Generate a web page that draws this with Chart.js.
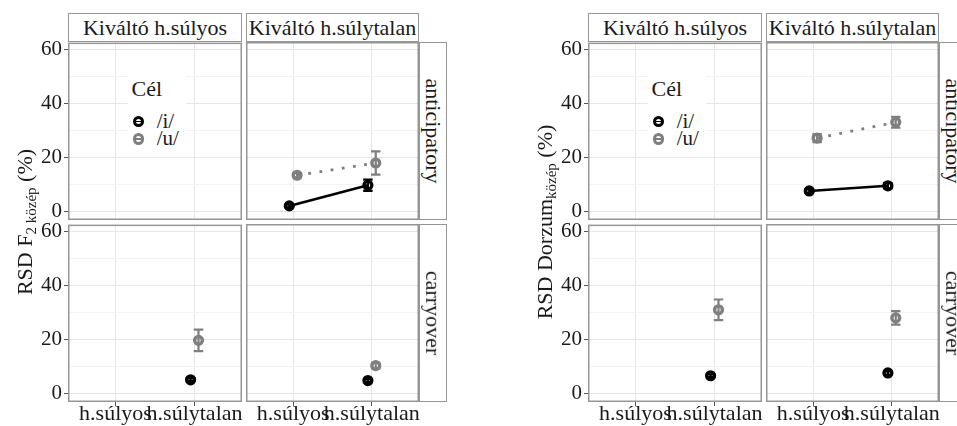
<!DOCTYPE html>
<html>
<head>
<meta charset="utf-8">
<script src="https://cdn.jsdelivr.net/npm/chart.js@4/dist/chart.umd.min.js"></script>
<style>
  html, body { margin: 0; padding: 0; background: #fff; overflow: hidden; }
  #fig { position: relative; width: 957px; height: 426px; overflow: hidden; background: #fff;
         font-family: "Liberation Serif", "Times New Roman", serif; color: #1a1a1a; }
  #fig canvas { position: absolute; }
  .strip { position: absolute; box-sizing: border-box; border: 1.5px solid #969696; background: #fff;
           display: flex; align-items: center; justify-content: center; font-size: 22px; white-space: nowrap; }
  .strip.side span { display: block; transform: rotate(90deg); }
  .ytitle { position: absolute; width: 400px; height: 30px; line-height: 30px; text-align: center;
            font-size: 22px; white-space: nowrap; transform: rotate(-90deg); }
  .ytitle sub { font-size: 15px; vertical-align: -4px; line-height: 0; }
  .legend { position: absolute; background: #fff; }
  .legend .title { position: absolute; font-size: 22px; line-height: 22px; white-space: nowrap; }
  .legend .lab { position: absolute; font-size: 21px; line-height: 21px; white-space: nowrap; }
  .legend .key { position: absolute; width: 11.4px; height: 11.4px; box-sizing: border-box;
                 border-radius: 50%; border: 3.4px solid currentColor; }
  .legend .key::after { content: ""; position: absolute; left: 0; right: 0; top: 50%; height: 1.6px;
                        margin-top: -0.8px; background: currentColor; }
</style>
</head>
<body>
<div id="fig"></div>
<script>
// ---- categories and labels ----
const xCategories = ['h.súlyos', 'h.súlytalan'];
const triggerLabels = ['Kiváltó h.súlyos', 'Kiváltó h.súlytalan'];
const contextLabels = ['anticipatory', 'carryover'];
const targetLabels = ['/i/', '/u/'];
const yGridValues = [0, 10, 20, 30, 40, 50, 60];
const yLabelValues = [0, 20, 40, 60];

// ---- RSD F2 közép (%), values per x category [h.súlyos, h.súlytalan] ----
// anticipatory, Kiváltó h.súlytalan
const f2AntUnstressedI = [2.2, 9.8];
const f2AntUnstressedIErr = [0.5, 2.1];
const f2AntUnstressedU = [13.5, 18.0];
const f2AntUnstressedUErr = [0.8, 4.3];
// carryover, Kiváltó h.súlyos
const f2CarStressedI = [null, 5.2];
const f2CarStressedIErr = [null, 0.5];
const f2CarStressedU = [null, 19.8];
const f2CarStressedUErr = [null, 4.0];
// carryover, Kiváltó h.súlytalan
const f2CarUnstressedI = [null, 4.9];
const f2CarUnstressedIErr = [null, 0.5];
const f2CarUnstressedU = [null, 10.4];
const f2CarUnstressedUErr = [null, 1.0];

// ---- RSD Dorzum közép (%) ----
// anticipatory, Kiváltó h.súlytalan
const dorAntUnstressedI = [7.7, 9.6];
const dorAntUnstressedIErr = [0.6, 1.0];
const dorAntUnstressedU = [27.2, 33.0];
const dorAntUnstressedUErr = [1.5, 2.0];
// carryover, Kiváltó h.súlyos
const dorCarStressedI = [null, 6.7];
const dorCarStressedIErr = [null, 0.5];
const dorCarStressedU = [null, 31.1];
const dorCarStressedUErr = [null, 3.8];
// carryover, Kiváltó h.súlytalan
const dorCarUnstressedI = [null, 7.7];
const dorCarUnstressedIErr = [null, 0.6];
const dorCarUnstressedU = [null, 28.0];
const dorCarUnstressedUErr = [null, 2.5];

// ---- styling / layout ----
const FONT = '"Liberation Serif", "Times New Roman", serif';
const TEXT = '#1a1a1a';
const COL_I = '#000000';
const COL_U = '#7f7f7f';
const BORDER = '#969696';
const DODGE = 0.05;
const CAP_HALF = 0.06;
const Y_MIN = -3.0, Y_MAX = 62.6;

const panelX = [68, 246], panelW = [174, 173];
const panelY = [42, 224], panelH = 178;
const stripTop = 13;
const sideStripW = 28;

// each figure: [row][col] -> series or null
const figures = [
  {
    offset: 0,
    titleHtml: 'RSD F<sub>2 közép</sub> (%)',
    panels: [
      [null, { line: true, i: f2AntUnstressedI, iErr: f2AntUnstressedIErr, u: f2AntUnstressedU, uErr: f2AntUnstressedUErr }],
      [{ line: false, i: f2CarStressedI, iErr: f2CarStressedIErr, u: f2CarStressedU, uErr: f2CarStressedUErr },
       { line: false, i: f2CarUnstressedI, iErr: f2CarUnstressedIErr, u: f2CarUnstressedU, uErr: f2CarUnstressedUErr }]
    ]
  },
  {
    offset: 520,
    titleHtml: 'RSD Dorzum<sub>közép</sub> (%)',
    panels: [
      [null, { line: true, i: dorAntUnstressedI, iErr: dorAntUnstressedIErr, u: dorAntUnstressedU, uErr: dorAntUnstressedUErr }],
      [{ line: false, i: dorCarStressedI, iErr: dorCarStressedIErr, u: dorCarStressedU, uErr: dorCarStressedUErr },
       { line: false, i: dorCarUnstressedI, iErr: dorCarUnstressedIErr, u: dorCarUnstressedU, uErr: dorCarUnstressedUErr }]
    ]
  }
];

// error bars under the points, panel border on top
const panelPlugin = {
  id: 'panelDecor',
  beforeDatasetsDraw(chart) {
    const { ctx, scales: { x, y } } = chart;
    chart.data.datasets.forEach(ds => {
      ctx.save();
      ctx.strokeStyle = ds.borderColor;
      ctx.lineWidth = 2.2;
      ctx.setLineDash([]);
      ctx.lineCap = 'butt';
      ds.data.forEach((pt, k) => {
        const e = ds.errors[k];
        if (e == null) return;
        const px = x.getPixelForValue(pt.x);
        const xl = x.getPixelForValue(pt.x - CAP_HALF);
        const xr = x.getPixelForValue(pt.x + CAP_HALF);
        const yt = y.getPixelForValue(pt.y + e);
        const yb = y.getPixelForValue(pt.y - e);
        ctx.beginPath();
        ctx.moveTo(px, yt); ctx.lineTo(px, yb);
        ctx.moveTo(xl, yt); ctx.lineTo(xr, yt);
        ctx.moveTo(xl, yb); ctx.lineTo(xr, yb);
        ctx.stroke();
      });
      ctx.restore();
    });
  },
  afterDraw(chart) {
    const a = chart.chartArea;
    const ctx = chart.ctx;
    ctx.save();
    ctx.strokeStyle = BORDER;
    ctx.lineWidth = 1.5;
    ctx.strokeRect(a.left + 0.75, a.top + 0.75, a.right - a.left - 1.5, a.bottom - a.top - 1.5);
    ctx.restore();
  }
};

function buildDataset(values, errs, color, label, line, dodge, dotted) {
  const data = [], errors = [];
  values.forEach((v, k) => {
    if (v == null) return;
    data.push({ x: k + 1 + dodge, y: v });
    errors.push(errs[k]);
  });
  return {
    label, data, errors,
    borderColor: color,
    backgroundColor: color,
    showLine: line,
    borderWidth: dotted ? 2.8 : 2.6,
    borderDash: dotted ? [2.8, 8.5] : [],
    borderCapStyle: 'butt',
    tension: 0,
    pointRadius: 3.9,
    pointBorderWidth: 3.4,
    pointBackgroundColor: 'rgba(0,0,0,0)',
    pointBorderColor: color,
    pointHoverRadius: 3.9
  };
}

const fig = document.getElementById('fig');

function addEl(tag, cls, style, html) {
  const el = document.createElement(tag);
  if (cls) el.className = cls;
  Object.assign(el.style, style);
  if (html != null) el.innerHTML = html;
  fig.appendChild(el);
  return el;
}

figures.forEach(F => {
  const ox = F.offset;

  for (let r = 0; r < 2; r++) {
    for (let c = 0; c < 2; c++) {
      const isLeft = c === 0, isBottom = r === 1;
      const padL = isLeft ? 50 : 0;
      const padT = 14;
      const padR = 12;
      const padB = isBottom ? 32 : 16;
      const w = panelW[c] + padL + padR;
      const h = panelH + padT + padB;
      const cv = document.createElement('canvas');
      cv.width = w; cv.height = h;
      cv.style.left = (ox + panelX[c] - padL) + 'px';
      cv.style.top = (panelY[r] - padT) + 'px';
      cv.style.width = w + 'px'; cv.style.height = h + 'px';
      fig.appendChild(cv);

      const P = F.panels[r][c];
      const datasets = P ? [
        buildDataset(P.i, P.iErr, COL_I, targetLabels[0], P.line, -DODGE, false),
        buildDataset(P.u, P.uErr, COL_U, targetLabels[1], P.line, DODGE, true)
      ] : [];

      new Chart(cv, {
        type: 'line',
        data: { datasets },
        options: {
          responsive: false,
          animation: false,
          events: [],
          layout: { autoPadding: false, padding: { top: padT, right: padR, bottom: 0, left: 0 } },
          plugins: { legend: { display: false }, tooltip: { enabled: false } },
          scales: {
            x: {
              type: 'linear', min: 0.4, max: 2.6,
              afterBuildTicks: s => { s.ticks = xCategories.map((_, k) => ({ value: k + 1 })); },
              afterFit: s => { s.height = padB; },
              ticks: {
                display: isBottom, autoSkip: false, maxRotation: 0, minRotation: 0,
                callback: v => xCategories[Math.round(v) - 1],
                font: { family: FONT, size: 22 }, color: TEXT, padding: -5
              },
              grid: { color: '#e6e6e6', lineWidth: 1, drawTicks: isBottom, tickLength: 4, tickColor: '#555' },
              border: { display: false }
            },
            y: {
              type: 'linear', min: Y_MIN, max: Y_MAX,
              afterBuildTicks: s => { s.ticks = yGridValues.map(v => ({ value: v })); },
              afterFit: s => { s.width = padL; },
              ticks: {
                display: isLeft, autoSkip: false,
                callback: v => yLabelValues.includes(v) ? String(v) : '',
                font: { family: FONT, size: 21 }, color: TEXT, padding: 2
              },
              grid: {
                color: ctx => yLabelValues.includes(ctx.tick.value) ? '#e6e6e6' : '#f3f3f3',
                lineWidth: 1,
                drawTicks: isLeft, tickLength: 4,
                tickColor: ctx => yLabelValues.includes(ctx.tick.value) ? '#555' : 'rgba(0,0,0,0)'
              },
              border: { display: false }
            }
          }
        },
        plugins: [panelPlugin]
      });
    }
  }

  // facet strips (top)
  for (let c = 0; c < 2; c++) {
    addEl('div', 'strip', {
      left: (ox + panelX[c]) + 'px', top: stripTop + 'px',
      width: panelW[c] + 'px', height: (panelY[0] - stripTop) + 'px'
    }, triggerLabels[c]);
  }
  // facet strips (right)
  const sideX = ox + panelX[1] + panelW[1];
  for (let r = 0; r < 2; r++) {
    addEl('div', 'strip side', {
      left: sideX + 'px', top: panelY[r] + 'px', width: sideStripW + 'px', height: panelH + 'px'
    }, '<span>' + contextLabels[r] + '</span>');
  }

  // y axis title
  const cy = (panelY[0] + panelY[1] + panelH) / 2;
  addEl('div', 'ytitle', { left: (ox + 25 - 200) + 'px', top: (cy - 15) + 'px' }, F.titleHtml);

  // legend inside the top-left panel
  const lg = addEl('div', 'legend', { left: (ox + 128) + 'px', top: '72px', width: '58px', height: '78px' });
  const t = document.createElement('div');
  t.className = 'title'; t.textContent = 'Cél';
  Object.assign(t.style, { left: '3.5px', top: '6px' });
  lg.appendChild(t);
  [COL_I, COL_U].forEach((col, k) => {
    const key = document.createElement('div');
    key.className = 'key';
    Object.assign(key.style, { left: (138.3 - 128 - 5.7) + 'px', top: (121.7 + k * 17.4 - 72 - 5.7) + 'px', color: col });
    lg.appendChild(key);
    const lab = document.createElement('div');
    lab.className = 'lab';
    lab.textContent = targetLabels[k];
    Object.assign(lab.style, { left: (156.7 - 128) + 'px', top: (121.7 + k * 17.4 - 72 - 11) + 'px' });
    lg.appendChild(lab);
  });
});
</script>
</body>
</html>
